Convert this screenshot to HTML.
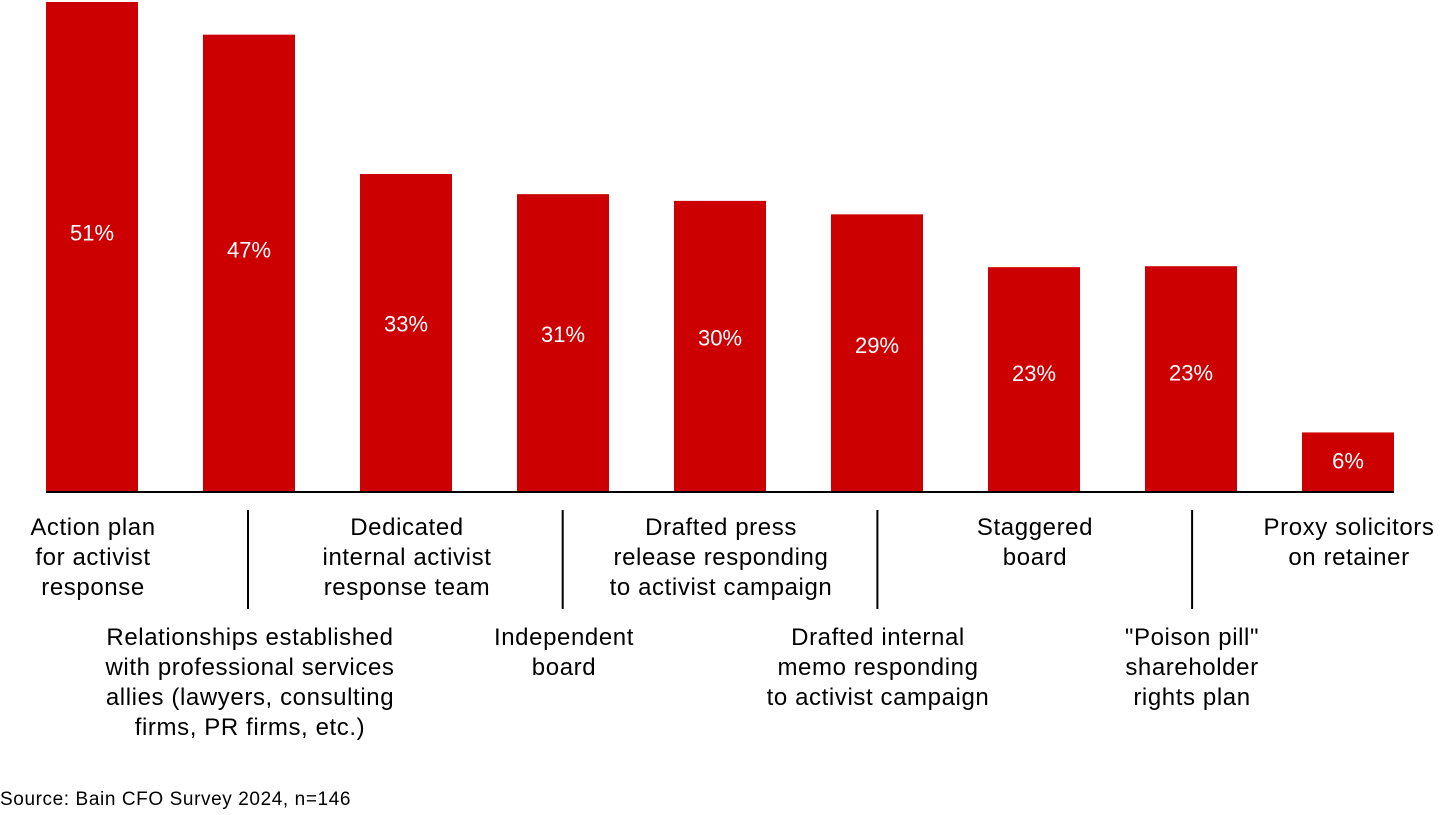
<!DOCTYPE html>
<html><head><meta charset="utf-8"><style>
body{margin:0;width:1440px;height:810px;background:#fff;overflow:hidden}
svg text{font-family:"Liberation Sans",sans-serif}
</style></head><body>
<svg id="chart" width="1440" height="810" xmlns="http://www.w3.org/2000/svg">
<text x="0" y="805" font-size="19" letter-spacing="0.6" fill="#000">Source: Bain CFO Survey 2024, n=146</text>
</svg>
<script>
const categories=[["Action plan","for activist","response"],["Relationships established","with professional services","allies (lawyers, consulting","firms, PR firms, etc.)"],["Dedicated","internal activist","response team"],["Independent","board"],["Drafted press","release responding","to activist campaign"],["Drafted internal","memo responding","to activist campaign"],["Staggered","board"],["\"Poison pill\"","shareholder","rights plan"],["Proxy solicitors","on retainer"]];
const values=[51,47.6,33.1,31,30.3,28.9,23.4,23.5,6.2];
const valueLabels=["51%","47%","33%","31%","30%","29%","23%","23%","6%"];
const ns="http://www.w3.org/2000/svg";
const svg=document.getElementById('chart');
const base=492,pxPer=490/51,x0=46,step=157,bw=92;
const y=v=>base-v*pxPer;
const xs=i=>x0+i*step;
function mk(t,a){const e=document.createElementNS(ns,t);for(const k in a)e.setAttribute(k,a[k]);svg.appendChild(e);return e;}
values.forEach((v,i)=>{
 const r=mk('rect',{x:xs(i),y:y(v),width:bw,height:base-y(v),fill:'#cc0000'});
 
 
 const t=mk('text',{x:xs(i)+bw/2,y:y(v)+(base-y(v))*0.47+8,'font-size':22,fill:'#fff','text-anchor':'middle'});
 t.textContent=valueLabels[i];
 
 
 const top=i%2===0?535:645;
 const g=mk('text',{x:xs(i)+bw/2+1,y:top,'font-size':24,'letter-spacing':0.6,fill:'#000','text-anchor':'middle'});
 
 
 categories[i].forEach((l,j)=>{const s=document.createElementNS(ns,'tspan');s.setAttribute('x',xs(i)+bw/2+1);s.setAttribute('y',top+j*30);s.textContent=l;g.appendChild(s);});
 if(i%2===1&&i<8){const k=(i-1)/2;const lx=248+k*314.7;
  const ln=mk('line',{x1:lx,x2:lx,y1:510,y2:609,stroke:'#000','stroke-width':2});
  
  }
});
const ax=mk('line',{x1:46,x2:1394,y1:base,y2:base,stroke:'#000','stroke-width':2});


</script>
</body></html>
